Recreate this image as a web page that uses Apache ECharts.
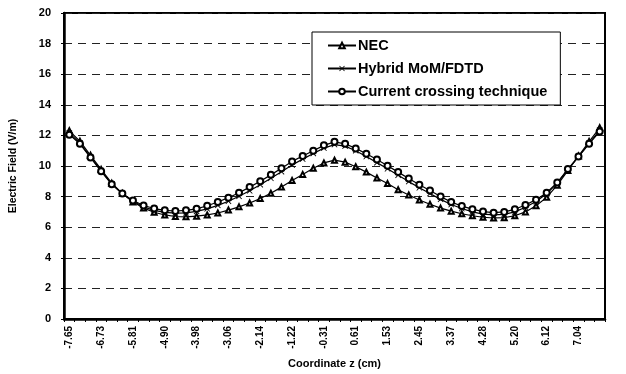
<!DOCTYPE html>
<html lang="en">
<head>
    <meta charset="UTF-8">
    <title>Electric Field vs Coordinate z</title>
    <style>
        html, body {
            margin: 0;
            padding: 0;
            background-color: #ffffff;
        }

        #chart {
            width: 626px;
            height: 374px;
        }
    </style>
</head>
<body>
<div id="chart"></div>
<script src="https://cdn.jsdelivr.net/npm/echarts@6/dist/echarts.min.js"></script>
<script>
    /*坐标 z (cm)*/
    var zCategories = ['-7.65', '-7.34', '-7.04', '-6.73', '-6.43', '-6.12', '-5.81', '-5.51', '-5.20', '-4.90',
        '-4.59', '-4.28', '-3.98', '-3.67', '-3.37', '-3.06', '-2.75', '-2.45', '-2.14', '-1.84',
        '-1.53', '-1.22', '-0.92', '-0.61', '-0.31', '0.00', '0.31', '0.61', '0.92', '1.22',
        '1.53', '1.84', '2.14', '2.45', '2.75', '3.06', '3.37', '3.67', '3.98', '4.28',
        '4.59', '4.90', '5.20', '5.51', '5.81', '6.12', '6.43', '6.73', '7.04', '7.34', '7.65'];

    var necValues = [12.3, 11.62, 10.7, 9.78, 8.88, 8.2, 7.65, 7.25, 6.98, 6.8,
        6.7, 6.68, 6.72, 6.8, 6.93, 7.12, 7.33, 7.58, 7.87, 8.22,
        8.62, 9.05, 9.45, 9.85, 10.2, 10.38, 10.25, 9.95, 9.6, 9.22,
        8.85, 8.45, 8.1, 7.78, 7.5, 7.25, 7.05, 6.88, 6.75, 6.65,
        6.6, 6.62, 6.75, 7.0, 7.4, 7.95, 8.75, 9.7, 10.65, 11.6, 12.5];

    var hybridValues = [12.15, 11.5, 10.6, 9.7, 8.82, 8.18, 7.7, 7.33, 7.1, 6.97,
        6.92, 6.94, 7.03, 7.2, 7.43, 7.7, 8.02, 8.38, 8.78, 9.2,
        9.63, 10.07, 10.45, 10.82, 11.17, 11.4, 11.3, 11.0, 10.62, 10.22,
        9.82, 9.4, 8.98, 8.58, 8.2, 7.82, 7.48, 7.22, 7.0, 6.85,
        6.8, 6.84, 7.0, 7.3, 7.68, 8.18, 8.88, 9.78, 10.62, 11.48, 12.35];

    var currentValues = [12.05, 11.45, 10.55, 9.65, 8.8, 8.2, 7.75, 7.42, 7.22, 7.1,
        7.06, 7.1, 7.2, 7.4, 7.65, 7.93, 8.25, 8.62, 9.0, 9.42,
        9.85, 10.3, 10.65, 11.0, 11.35, 11.58, 11.45, 11.15, 10.8, 10.42,
        10.02, 9.6, 9.18, 8.78, 8.4, 8.0, 7.65, 7.38, 7.18, 7.02,
        6.95, 7.0, 7.17, 7.45, 7.8, 8.25, 8.92, 9.8, 10.62, 11.45, 12.25];

    var seriesNames = ['NEC', 'Hybrid MoM/FDTD', 'Current crossing technique'];

    var fontName = '"Liberation Sans", Arial, sans-serif';
    var crossSymbol = 'path://M0,1L1,0L5,4L9,0L10,1L6,5L10,9L9,10L5,6L1,10L0,9L4,5Z';

    var chart = echarts.init(document.getElementById('chart'));
    var option = {
        backgroundColor: '#ffffff',
        animation: false,
        textStyle: {
            fontFamily: fontName,
            color: '#000'
        },
        legend: {
            data: seriesNames,
            orient: 'vertical',
            left: 312,
            top: 32,
            padding: [6, 13, 6, 15],
            itemGap: 8,
            itemWidth: 28,
            itemHeight: 7,
            backgroundColor: '#ffffff',
            borderColor: '#000',
            borderWidth: 1,
            borderRadius: 0,
            textStyle: {
                fontFamily: fontName,
                fontWeight: 'bold',
                fontSize: 14.5,
                color: '#000',
                padding: [0, 0, 0, -3]
            }
        },
        grid: {
            left: 62,
            right: 21,
            top: 13,
            bottom: 51,
            show: true,
            borderColor: '#000',
            borderWidth: 2
        },
        xAxis: {
            type: 'category',
            data: zCategories,
            name: 'Coordinate z (cm)',
            nameLocation: 'middle',
            nameGap: 39,
            nameTextStyle: {
                fontFamily: fontName,
                fontWeight: 'bold',
                fontSize: 11,
                color: '#000'
            },
            axisLine: {
                lineStyle: {color: '#000', width: 2.5}
            },
            axisTick: {
                show: true,
                interval: 0,
                length: 3,
                lineStyle: {color: '#000', width: 1}
            },
            axisLabel: {
                interval: 2,
                rotate: 90,
                margin: 7,
                fontFamily: fontName,
                fontWeight: 'bold',
                fontSize: 10,
                color: '#000'
            },
            splitLine: {show: false}
        },
        yAxis: {
            type: 'value',
            min: 0,
            max: 20,
            interval: 2,
            name: 'Electric Field (V/m)',
            nameLocation: 'middle',
            nameRotate: 90,
            nameGap: 45,
            nameTextStyle: {
                fontFamily: fontName,
                fontWeight: 'bold',
                fontSize: 10.5,
                color: '#000'
            },
            axisLine: {
                show: true,
                lineStyle: {color: '#000', width: 2.5}
            },
            axisTick: {
                show: true,
                length: 3,
                lineStyle: {color: '#000', width: 1}
            },
            axisLabel: {
                margin: 13,
                fontFamily: fontName,
                fontWeight: 'bold',
                fontSize: 11,
                color: '#000'
            },
            splitLine: {
                show: true,
                lineStyle: {color: '#222', width: 1, type: [8, 6]}
            }
        },
        series: [
            {
                name: seriesNames[0],
                type: 'line',
                data: necValues,
                symbol: 'emptyTriangle',
                symbolSize: 5,
                lineStyle: {color: '#000', width: 1.2},
                itemStyle: {color: '#000', borderColor: '#000', borderWidth: 1}
            },
            {
                name: seriesNames[1],
                type: 'line',
                data: hybridValues,
                symbol: crossSymbol,
                symbolSize: 6,
                lineStyle: {color: '#000', width: 1.2},
                itemStyle: {color: '#000', borderColor: '#000', borderWidth: 0}
            },
            {
                name: seriesNames[2],
                type: 'line',
                data: currentValues,
                symbol: 'emptyCircle',
                symbolSize: 6,
                lineStyle: {color: '#000', width: 1.2},
                itemStyle: {color: '#000', borderColor: '#000', borderWidth: 1}
            }
        ]
    };
    chart.setOption(option);
</script>
</body>
</html>
